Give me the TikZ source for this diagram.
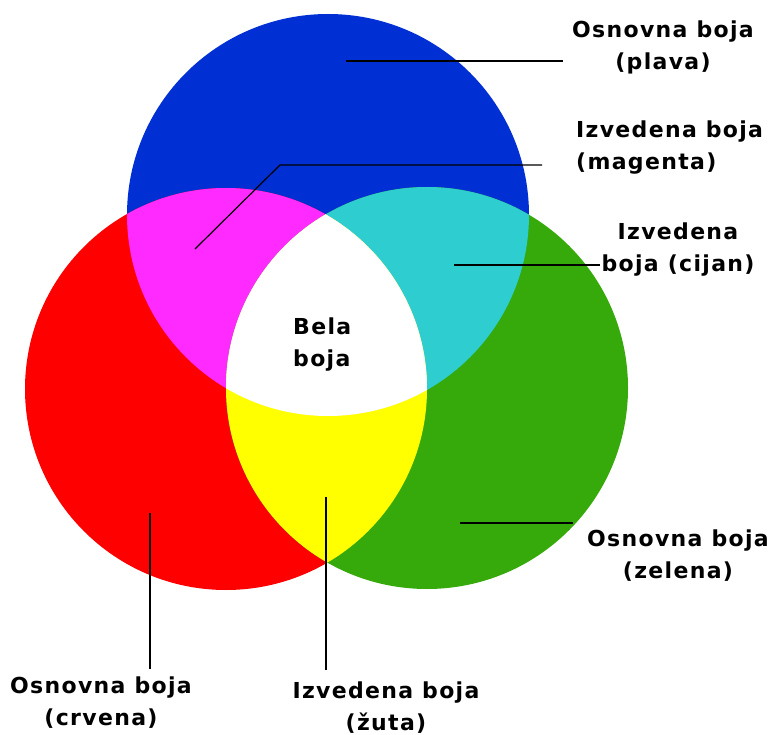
\documentclass[tikz,border=0pt]{standalone}
\usepackage{fontspec}
\newfontfamily\lblfont[LetterSpace=6]{DejaVu Sans}
\definecolor{cBlue}{RGB}{0,48,212}
\definecolor{cRed}{RGB}{255,0,0}
\definecolor{cGreen}{RGB}{53,170,10}
\definecolor{cMag}{RGB}{255,42,255}
\definecolor{cCyan}{RGB}{45,205,208}
\definecolor{cYel}{RGB}{255,255,0}
\tikzset{
  lbl/.style={font=\lblfont\bfseries\fontsize{22}{32}\selectfont, align=center, inner sep=0pt, text=black},
  leader/.style={draw=black, line width=1.2pt},
}
\begin{document}
\begin{tikzpicture}[x=1pt,y=-1pt]
\useasboundingbox (0,0) rectangle (768,735);
% circle centres
\coordinate (cB) at (328,215);
\coordinate (cR) at (226,389);
\coordinate (cG) at (427,388);
\def\rad{201}
% primary colours
\fill[cBlue] (cB) circle[radius=\rad];
\fill[cRed] (cR) circle[radius=\rad];
\fill[cGreen] (cG) circle[radius=\rad];
% derived colours
\begin{scope}
  \clip (cB) circle[radius=\rad];
  \fill[cMag] (cR) circle[radius=\rad];
  \fill[cCyan] (cG) circle[radius=\rad];
\end{scope}
\begin{scope}
  \clip (cR) circle[radius=\rad];
  \fill[cYel] (cG) circle[radius=\rad];
\end{scope}
\begin{scope}
  \clip (cB) circle[radius=\rad];
  \clip (cR) circle[radius=\rad];
  \fill[white] (cG) circle[radius=\rad];
\end{scope}
% labels
\node[lbl] (plava) at (663,47) {Osnovna boja\\(plava)};
\node[lbl, anchor=west, align=left] (magenta) at (576,148) {Izvedena boja\\(magenta)};
\node[lbl] (cijan) at (678,250) {Izvedena\\boja (cijan)};
\node[lbl, anchor=west, align=left] (bela) at (293,345) {Bela\\boja};
\node[lbl] (zelena) at (678,556) {Osnovna boja\\(zelena)};
\node[lbl] (crvena) at (101,703) {Osnovna boja\\(crvena)};
\node[lbl] (zuta) at (386,708) {Izvedena boja\\(žuta)};
% leader start points
\coordinate (aPl) at (346,61);
\coordinate (aMg) at (195,249);
\coordinate (aMgK) at (280,165);
\coordinate (aCy) at (454,265);
\coordinate (aGr) at (460,523);
\coordinate (aRd) at (150,513);
\coordinate (aYe) at (326,497);
% leaders
\draw[leader] (aPl) -- ([xshift=-9pt]aPl -| plava.west);
\draw[leader] (aMg) -- (aMgK) -- ([xshift=-34pt]aMgK -| magenta.west);
\draw[leader] (aCy) -- ([xshift=-1pt]aCy -| cijan.west);
\draw[leader] (aGr) -- ([xshift=-14pt]aGr -| zelena.west);
\draw[leader] (aRd) -- ([yshift=8pt]aRd |- crvena.north);
\draw[leader] (aYe) -- ([yshift=12pt]aYe |- zuta.north);
\end{tikzpicture}
\end{document}
